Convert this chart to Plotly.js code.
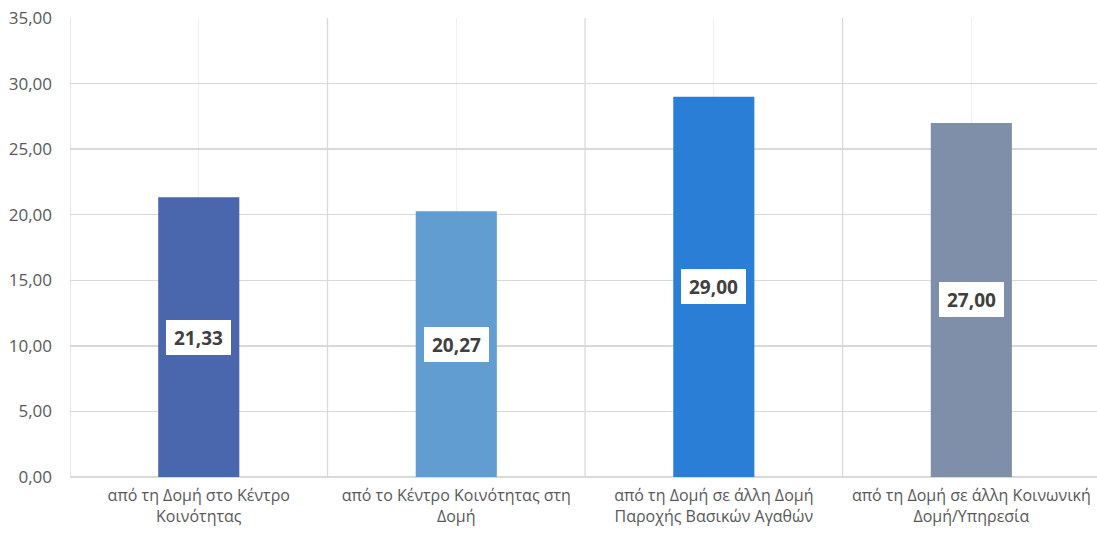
<!DOCTYPE html>
<html>
<head>
<meta charset="utf-8">
<script src="https://cdn.plot.ly/plotly-3.0.1.min.js"></script>
<style>html,body{margin:0;padding:0;background:#fff;}#chart{width:1097px;height:533px;}</style>
</head>
<body>
<div id="chart"></div>
<script>
var categories = [
  "από τη Δομή στο Κέντρο<br>Κοινότητας",
  "από το Κέντρο Κοινότητας στη<br>Δομή",
  "από τη Δομή σε άλλη Δομή<br>Παροχής Βασικών Αγαθών",
  "από τη Δομή σε άλλη Κοινωνική<br>Δομή/Υπηρεσία"
];
var values = [21.33, 20.27, 29.00, 27.00];
var barColors = ["#4A66AC", "#629DD1", "#2A7ED6", "#7F8FA9"];
var yTicks = [0, 5, 10, 15, 20, 25, 30, 35];

var idx = categories.map(function(_, i){ return i; });

var trace = {
  type: "bar",
  x: idx,
  y: values,
  width: 0.315,
  marker: {color: barColors},
  hoverinfo: "skip"
};

function fmt(v){ return v.toFixed(2).replace(".", ","); }

var annotations = values.map(function(v, i){
  return {
    x: i, y: v/2, xref: "x", yref: "y",
    text: "<b>" + fmt(v) + "</b>",
    showarrow: false,
    bgcolor: "#ffffff",
    bordercolor: "#ffffff",
    borderwidth: 1,
    borderpad: 5,
    width: 53,
    height: 23,
    font: {family: "Open Sans, Liberation Sans, sans-serif", size: 19, color: "#404040"}
  };
});

var shapes = [];
for (var b = 0; b <= categories.length; b++) {
  shapes.push({
    type: "line", xref: "x", yref: "paper",
    x0: b - 0.5, x1: b - 0.5, y0: 0, y1: 1,
    line: {color: "#d9d9d9", width: 1.3},
    layer: "below"
  });
}

var layout = {
  width: 1097, height: 533,
  margin: {l: 70, r: 0, t: 18, b: 56, pad: 0},
  paper_bgcolor: "#ffffff",
  plot_bgcolor: "#ffffff",
  separators: ",.",
  showlegend: false,
  font: {family: "Open Sans, Liberation Sans, sans-serif", color: "#595959"},
  xaxis: {
    range: [-0.5, 3.488],
    tickmode: "array",
    tickvals: idx,
    ticktext: categories,
    showgrid: true,
    gridcolor: "#f0f0f0",
    gridwidth: 1.3,
    zeroline: false,
    showline: false,
    ticks: "outside",
    ticklen: 4,
    tickcolor: "rgba(0,0,0,0)",
    tickfont: {size: 16, color: "#595959"},
    fixedrange: true
  },
  yaxis: {
    range: [0, 35],
    tickmode: "array",
    tickvals: yTicks,
    tickformat: ".2f",
    showgrid: true,
    gridcolor: "#d9d9d9",
    gridwidth: 1.3,
    zeroline: true,
    zerolinecolor: "#d9d9d9",
    zerolinewidth: 1.3,
    showline: false,
    ticks: "",
    ticklabelstandoff: 17,
    tickfont: {size: 17, color: "#595959"},
    fixedrange: true
  },
  shapes: shapes,
  annotations: annotations
};

Plotly.newPlot("chart", [trace], layout, {displayModeBar: false, staticPlot: true});
</script>
</body>
</html>
